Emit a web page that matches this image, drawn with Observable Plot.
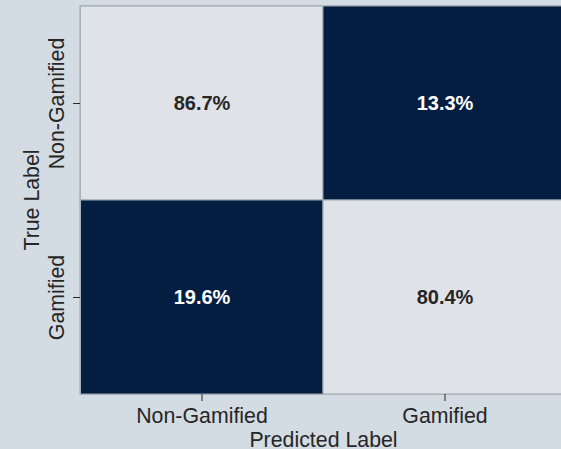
<!DOCTYPE html>
<html><head><meta charset="utf-8">
<script src="https://cdn.jsdelivr.net/npm/d3@7"></script>
<script src="https://cdn.jsdelivr.net/npm/@observablehq/plot@0.6"></script>
<style>
html,body{margin:0;padding:0;background:#d3dbe3;overflow:hidden;}
</style></head><body><div id="chart"></div>
<script>
const trueLabels = ["Non-Gamified", "Gamified"];
const predLabels = ["Non-Gamified", "Gamified"];
const rowNonGamified = [86.7, 13.3];
const rowGamified = [19.6, 80.4];
const values = [rowNonGamified, rowGamified];

const cells = [];
trueLabels.forEach((t, i) => predLabels.forEach((p, j) => cells.push({t, p, v: values[i][j]})));

const plot = Plot.plot({
  width: 561, height: 449,
  marginLeft: 80, marginTop: 5, marginRight: -5, marginBottom: 55,
  style: {background: "#d3dbe3", fontFamily: "'Liberation Sans', Arial, sans-serif", fontSize: "21.33px", color: "#262626", overflow: "hidden"},
  x: {domain: predLabels, padding: 0},
  y: {domain: trueLabels, padding: 0},
  color: {type: "threshold", domain: [50], range: ["#041e42", "#dfe3e8"]},
  marks: [
    Plot.cell(cells, {x: "p", y: "t", fill: "v", stroke: "#9aa6b2", strokeWidth: 1}),
    Plot.frame({stroke: "#a9b1ba"}),
    Plot.text(cells.filter(d => d.v < 50), {x: "p", y: "t", text: d => d.v.toFixed(1) + "%", fill: "white", fontWeight: "bold", fontSize: 20}),
    Plot.text(cells.filter(d => d.v >= 50), {x: "p", y: "t", text: d => d.v.toFixed(1) + "%", fill: "#262626", fontWeight: "bold", fontSize: 20}),
    Plot.axisX({label: "Predicted Label", labelAnchor: "center", labelOffset: 52, tickSize: 7, tickPadding: 6, fontSize: 21.33}),
    Plot.axisY({label: "True Label", labelAnchor: "center", labelOffset: 57, tickSize: 7, tickRotate: -90, tickPadding: 10, fontSize: 21.33})
  ]
});
document.getElementById("chart").appendChild(plot);
</script></body></html>
